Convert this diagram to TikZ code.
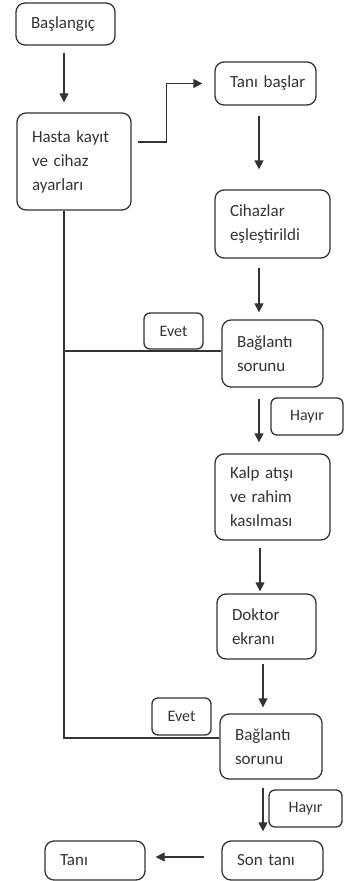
\documentclass[tikz,border=0pt]{standalone}
\usepackage{fontspec}
\setmainfont{Carlito}
\usetikzlibrary{arrows.meta}
\definecolor{ink}{HTML}{333333}
\tikzset{
  box/.style={draw=ink, line width=1.3pt, rounded corners=9pt, text=ink, align=left, inner xsep=15pt, inner ysep=0pt, font=\fontsize{17}{24}\selectfont},
  lbl/.style={draw=ink, line width=1.3pt, rounded corners=6pt, text=ink, align=center, inner sep=0pt, font=\fontsize{16}{20}\selectfont},
  arr/.style={draw=ink, line width=1.3pt, -{Triangle[length=9pt,width=9pt]}},
  plain/.style={draw=ink, line width=1.3pt}
}
\begin{document}
\begin{tikzpicture}[x=1pt,y=-1pt]
\useasboundingbox (0,0) rectangle (344,881);
\coordinate (xa) at (64,0);
\coordinate (xb) at (259,0);
\coordinate (xc) at (260,0);
\coordinate (xd) at (263,0);

\node[box, minimum width=99, minimum height=42, text width=69] (start) at (65.5,24) {Başlangıç};
\node[box, minimum width=114, minimum height=97, text width=84] (hasta) at (74,161.5) {Hasta kayıt\\ve cihaz\\ayarları};
\node[box, minimum width=101, minimum height=43, text width=71] (tani) at (265.5,83.5) {\mbox{Tanı başlar}};
\node[box, minimum width=115, minimum height=68, text width=85] (cihaz) at (272.5,224) {Cihazlar\\eşleştirildi};
\node[box, minimum width=101, minimum height=67, text width=71] (bag1) at (272.5,353.5) {Bağlantı\\sorunu};
\node[box, minimum width=115, minimum height=86, text width=85] (kalp) at (272.5,497) {Kalp atışı\\ve rahim\\kasılması};
\node[box, minimum width=99, minimum height=65, text width=69] (doktor) at (266.5,626.5) {Doktor\\ekranı};
\node[box, minimum width=102, minimum height=65, text width=72] (bag2) at (271,746.5) {Bağlantı\\sorunu};
\node[box, minimum width=101, minimum height=39, text width=71] (son) at (272.5,860.5) {Son tanı};
\node[box, minimum width=100, minimum height=39, text width=70] (final) at (95,860.5) {Tanı};

% connectors
\draw[arr, shorten <=7pt, shorten >=10pt] (start.south -| xa) -- (hasta.north -| xa);
\draw[arr, shorten <=6pt, shorten >=12pt] ([yshift=19.5pt]hasta.east) -- ++(35,0) |- (tani.west);
\draw[arr, shorten <=10pt, shorten >=20pt] (tani.south -| xb) -- (cihaz.north -| xb);
\draw[arr, shorten <=9pt, shorten >=7pt] (cihaz.south -| xb) -- (bag1.north -| xb);
\draw[arr, shorten <=11pt, shorten >=11pt] (bag1.south -| xb) -- (kalp.north -| xb);
\draw[arr, shorten <=7pt, shorten >=2pt] (kalp.south -| xc) -- (doktor.north -| xc);
\draw[arr, shorten <=4pt, shorten >=6pt] (doktor.south -| xd) -- (bag2.north -| xd);
\draw[arr, shorten <=8pt, shorten >=9pt] (bag2.south -| xd) -- (son.north -| xd);
\draw[arr, shorten <=17pt, shorten >=10pt] ([yshift=3.5pt]son.west) -- ([yshift=3.5pt]final.east);
\draw[plain] (hasta.south -| xa) |- ([yshift=8.5pt]bag2.west);
\draw[plain] (xa |- 0,351) -- ([yshift=2.5pt]bag1.west);

% labels
\node[lbl, minimum width=59, minimum height=36] (evet1) at (173.5,331) {Evet};
\node[lbl, minimum width=72, minimum height=37] (hayir1) at (307,416.5) {Hayır};
\node[lbl, minimum width=59, minimum height=37] (evet2) at (181.5,716.5) {Evet};
\node[lbl, minimum width=73, minimum height=37] (hayir2) at (305.5,808.5) {Hayır};
\end{tikzpicture}
\end{document}
